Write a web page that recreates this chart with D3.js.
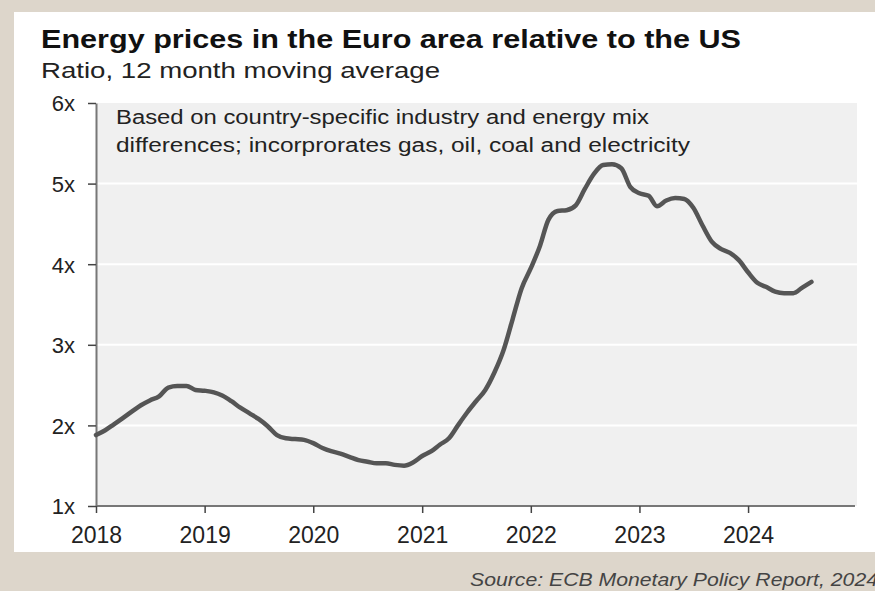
<!DOCTYPE html>
<html>
<head>
<meta charset="utf-8">
<script src="https://cdn.jsdelivr.net/npm/d3@7"></script>
<style>
  html, body { margin: 0; padding: 0; background: #ddd6cb; }
  svg { display: block; }
  text { font-family: "Liberation Sans", Arial, sans-serif; }
</style>
</head>
<body>
<svg id="chart" width="875" height="591"></svg>
<script>
// ---- data ----
const startMonth = "2018-01";
const values = [
  // 2018
  1.88, 1.94, 2.01, 2.09, 2.17, 2.25, 2.31, 2.36, 2.47, 2.49, 2.49, 2.44,
  // 2019
  2.43, 2.41, 2.37, 2.30, 2.22, 2.15, 2.08, 1.99, 1.88, 1.84, 1.83, 1.82,
  // 2020
  1.78, 1.72, 1.68, 1.65, 1.61, 1.57, 1.55, 1.53, 1.53, 1.51, 1.50, 1.54,
  // 2021
  1.62, 1.68, 1.76, 1.84, 2.00, 2.16, 2.30, 2.44, 2.66, 2.93, 3.32, 3.70,
  // 2022
  3.95, 4.23, 4.55, 4.66, 4.67, 4.73, 4.93, 5.12, 5.23, 5.24, 5.19, 4.96,
  // 2023
  4.88, 4.85, 4.72, 4.79, 4.82, 4.81, 4.70, 4.48, 4.28, 4.19, 4.14, 4.05,
  // 2024
  3.90, 3.77, 3.72, 3.66, 3.64, 3.64, 3.71, 3.78
];
const yearTicks = [2018, 2019, 2020, 2021, 2022, 2023, 2024];
const yTicks = [1, 2, 3, 4, 5, 6];
const title = "Energy prices in the Euro area relative to the US";
const subtitle = "Ratio, 12 month moving average";
const noteLines = [
  "Based on country-specific industry and energy mix",
  "differences; incorprorates gas, oil, coal and electricity"
];
const source = "Source: ECB Monetary Policy Report, 2024";

// ---- layout ----
const svg = d3.select("#chart");
const W = 875, H = 591;
const plot = { left: 96, right: 857, top: 103, bottom: 506 };

svg.append("rect").attr("width", W).attr("height", H).attr("fill", "#ddd6cb");
svg.append("rect").attr("x", 14).attr("y", 12).attr("width", W - 14).attr("height", 540).attr("fill", "#ffffff");

const parse = d3.timeParse("%Y-%m");
const t0 = parse(startMonth);
const data = values.map((v, i) => ({ date: d3.timeMonth.offset(t0, i), v }));

const x = d3.scaleTime()
  .domain([new Date(2018, 0, 1), new Date(2025, 0, 1)])
  .range([plot.left, plot.right]);
const y = d3.scaleLinear().domain([1, 6]).range([plot.bottom, plot.top]);

// plot background
svg.append("rect")
  .attr("x", plot.left).attr("y", plot.top)
  .attr("width", plot.right - plot.left).attr("height", plot.bottom - plot.top)
  .attr("fill", "#f0f0f0");

// gridlines
svg.append("g").selectAll("line")
  .data(yTicks.filter(d => d > 1 && d < 6))
  .join("line")
  .attr("x1", plot.left).attr("x2", plot.right)
  .attr("y1", d => y(d)).attr("y2", d => y(d))
  .attr("stroke", "#ffffff").attr("stroke-width", 2);

// title & subtitle
svg.append("text").attr("x", 41).attr("y", 48)
  .style("font-size", "25px").attr("font-weight", "bold").attr("fill", "#111")
  .attr("textLength", 700).attr("lengthAdjust", "spacingAndGlyphs")
  .text(title);
svg.append("text").attr("x", 41).attr("y", 78)
  .style("font-size", "22px").attr("fill", "#222")
  .attr("textLength", 399).attr("lengthAdjust", "spacingAndGlyphs")
  .text(subtitle);

// note
svg.append("g").selectAll("text").data(noteLines).join("text")
  .attr("x", 116).attr("y", (d, i) => 124 + i * 28)
  .style("font-size", "20px").attr("fill", "#222")
  .attr("textLength", (d, i) => i === 0 ? 533 : 574)
  .attr("lengthAdjust", "spacingAndGlyphs")
  .text(d => d);

// y axis
const yAxis = d3.axisLeft(y).tickValues(yTicks).tickSize(8).tickSizeOuter(0)
  .tickPadding(13).tickFormat(d => d + "x");
const gy = svg.append("g").attr("transform", `translate(${plot.left},0)`).call(yAxis);
gy.attr("font-size", null).attr("font-family", null);
gy.select(".domain").attr("stroke", "#777").attr("stroke-width", 2);
gy.selectAll(".tick line").attr("stroke", "#444").attr("stroke-width", 1.5);
gy.selectAll(".tick text").style("font-size", "22px").attr("fill", "#222")
  .attr("dy", "0.36em");

// x axis
const xAxis = d3.axisBottom(x).tickValues(yearTicks.map(yr => new Date(yr, 0, 1)))
  .tickSize(7).tickSizeOuter(0).tickPadding(14).tickFormat(d3.timeFormat("%Y"));
const gx = svg.append("g").attr("transform", `translate(0,${plot.bottom})`).call(xAxis);
gx.attr("font-size", null).attr("font-family", null);
gx.select(".domain").attr("stroke", "#777").attr("stroke-width", 2)
  .attr("d", `M${plot.left},0H${plot.right - 2}`);
gx.selectAll(".tick line").attr("stroke", "#444").attr("stroke-width", 1.5);
gx.selectAll(".tick text").style("font-size", "23px").attr("fill", "#222");

// line
const line = d3.line().x(d => x(d.date)).y(d => y(d.v)).curve(d3.curveMonotoneX);
svg.append("path").datum(data)
  .attr("d", line)
  .attr("fill", "none")
  .attr("stroke", "#555555")
  .attr("stroke-width", 4.5)
  .attr("stroke-linejoin", "round")
  .attr("stroke-linecap", "round");

// source
svg.append("text").attr("x", 470).attr("y", 586)
  .style("font-size", "19px").attr("font-style", "italic").attr("fill", "#444")
  .attr("textLength", 408).attr("lengthAdjust", "spacingAndGlyphs")
  .text(source);
</script>
</body>
</html>
